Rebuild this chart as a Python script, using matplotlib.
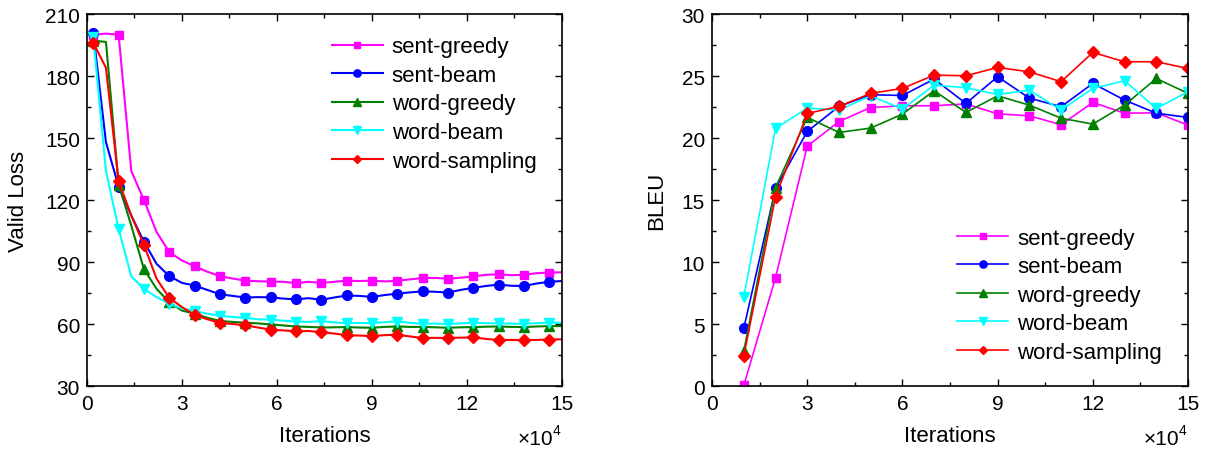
import numpy as np
import matplotlib
matplotlib.use("Agg")
import matplotlib.pyplot as plt

plt.rcParams['font.family'] = ['Liberation Sans', 'DejaVu Sans']

# ---- data ----
labels = ["sent-greedy", "sent-beam", "word-greedy", "word-beam", "word-sampling"]

# valid loss, sampled every 0.4e4 iterations (markers on every other point)
loss_iters = [0.2, 0.6, 1.0, 1.4, 1.8, 2.2, 2.6, 3.0, 3.4, 3.8, 4.2, 4.6, 5.0,
              5.4, 5.8, 6.2, 6.6, 7.0, 7.4, 7.8, 8.2, 8.6, 9.0, 9.4, 9.8, 10.2,
              10.6, 11.0, 11.4, 11.8, 12.2, 12.6, 13.0, 13.4, 13.8, 14.2, 14.6, 15.0]
loss_sent_greedy = [200, 200.5, 200, 134, 120, 104.5, 94.8, 90.7, 88.0, 85.3,
                    83.2, 82.0, 81.0, 80.7, 80.5, 80.4, 79.8, 80.4, 79.9, 80.4,
                    81.0, 80.8, 81.0, 80.6, 80.9, 81.6, 82.2, 82.3, 81.9, 82.4,
                    83.0, 83.8, 84.1, 83.6, 83.8, 84.6, 84.9, 85.0]
loss_sent_beam = [200.8, 148, 126.5, 112.5, 99.8, 89.1, 83.2, 79.9, 78.6, 76.5,
                  74.4, 73.6, 72.8, 73.0, 72.9, 72.3, 71.9, 72.5, 71.7, 72.8,
                  73.8, 73.6, 73.1, 74.0, 74.7, 75.3, 75.8, 75.6, 75.2, 76.5,
                  77.5, 78.4, 79.1, 78.5, 78.4, 79.6, 80.4, 80.8]
loss_word_greedy = [197.1, 196.5, 127.5, 107.6, 86.5, 77.0, 70.5, 66.5, 65.0, 63.0,
                    61.5, 61.0, 60.6, 60.3, 59.8, 59.3, 58.8, 58.6, 58.3, 58.4,
                    58.5, 58.3, 58.2, 58.6, 58.8, 58.6, 58.6, 58.4, 58.2, 58.4,
                    58.5, 58.7, 58.8, 58.6, 58.5, 58.8, 59.0, 59.0]
loss_word_beam = [198.7, 134, 106, 83, 77, 73, 69.8, 67.5, 66.3, 65.0,
                  64.0, 63.4, 63.0, 62.3, 62.1, 61.6, 61.2, 61.0, 61.4, 60.8,
                  60.4, 60.5, 60.4, 60.9, 61.2, 60.6, 60.1, 60.2, 60.0, 60.3,
                  60.6, 60.4, 60.3, 60.2, 60.1, 60.4, 60.6, 60.6]
loss_word_sampling = [196, 184, 129, 112.5, 98.3, 81.9, 72.7, 68.2, 64.4, 62.3,
                      60.6, 60.0, 59.4, 58.3, 57.3, 56.9, 56.5, 56.6, 56.1, 55.4,
                      54.6, 54.4, 54.2, 54.6, 54.8, 54.0, 53.2, 53.3, 53.2, 53.4,
                      53.5, 52.8, 52.2, 52.3, 52.2, 52.3, 52.5, 52.6]

# BLEU every 1e4 iterations
bleu_iters = [1, 2, 3, 4, 5, 6, 7, 8, 9, 10, 11, 12, 13, 14, 15]
bleu_sent_greedy = [0.05, 8.74, 19.34, 21.33, 22.46, 22.6, 22.6, 22.75, 21.95,
                    21.79, 21.07, 22.87, 22.0, 22.03, 21.04]
bleu_sent_beam = [4.65, 15.93, 20.53, 22.55, 23.49, 23.43, 24.75, 22.79, 24.94,
                  23.22, 22.52, 24.4, 23.06, 22.0, 21.66]
bleu_word_greedy = [2.8, 16.0, 21.66, 20.45, 20.8, 21.93, 23.81, 22.06, 23.4,
                    22.65, 21.6, 21.12, 22.65, 24.8, 23.6]
bleu_word_beam = [7.18, 20.77, 22.41, 22.25, 23.4, 22.33, 24.27, 24.05, 23.51,
                  23.86, 22.25, 24.0, 24.62, 22.38, 23.73]
bleu_word_sampling = [2.42, 15.25, 21.98, 22.55, 23.6, 24.0, 25.07, 25.02, 25.69,
                      25.34, 24.54, 26.9, 26.15, 26.15, 25.61]

colors = ["#ff00ff", "#0000ff", "#008000", "#00ffff", "#ff0000"]
markers = ["s", "o", "^", "v", "D"]
msizes = [6, 7, 7, 7, 6]

loss_series = [loss_sent_greedy, loss_sent_beam, loss_word_greedy,
               loss_word_beam, loss_word_sampling]
bleu_series = [bleu_sent_greedy, bleu_sent_beam, bleu_word_greedy,
               bleu_word_beam, bleu_word_sampling]


def style_axes(ax, ylabel_x):
    ax.tick_params(which='both', direction='in', top=True, right=True,
                   labelsize=15, width=1.0)
    ax.tick_params(axis='x', pad=6)
    ax.tick_params(axis='y', pad=5)
    ax.tick_params(which='major', length=5)
    ax.tick_params(which='minor', length=3)
    for spine in ax.spines.values():
        spine.set_linewidth(1.2)
    ax.set_xlabel("Iterations", fontsize=16)
    ax.xaxis.set_label_coords(0.5, -0.105)
    ax.yaxis.set_label_coords(ylabel_x, 0.5)
    # x10^4 multiplier under the right end of the x axis
    ax.text(0.981, -0.14, "×10", transform=ax.transAxes,
            fontsize=15, ha='right', va='center')
    ax.text(0.981, -0.118, "4", transform=ax.transAxes,
            fontsize=10, ha='left', va='center')


def add_legend(ax, y_top):
    ax.legend(loc='upper left', bbox_to_anchor=(0.515, y_top), frameon=False,
              fontsize=16, handlelength=2.3, handletextpad=0.4, labelspacing=0.34,
              borderpad=0, borderaxespad=0, markerscale=0.75)


fig = plt.figure(figsize=(12.11, 4.52), dpi=100)

# left: valid loss
ax1 = fig.add_axes([0.0718, 0.1438, 0.3922, 0.823])
for vals, lab, c, m, ms in zip(loss_series, labels, colors, markers, msizes):
    ax1.plot(loss_iters, vals, color=c, marker=m, markersize=ms, lw=1.5,
             markevery=2, label=lab)
ax1.set_xlim(0, 15)
ax1.set_ylim(30, 210)
ax1.set_xticks([0, 3, 6, 9, 12, 15])
ax1.set_xticks(np.arange(1.5, 15, 3), minor=True)
ax1.set_yticks([30, 60, 90, 120, 150, 180, 210])
ax1.set_yticks(np.arange(45, 210, 30), minor=True)
ax1.set_ylabel("Valid Loss", fontsize=16)
style_axes(ax1, -0.122)
add_legend(ax1, 0.94)

# right: BLEU
ax2 = fig.add_axes([0.588, 0.1438, 0.393, 0.823])
for vals, lab, c, m, ms in zip(bleu_series, labels, colors, markers, msizes):
    ax2.plot(bleu_iters, vals, color=c, marker=m, markersize=ms, lw=1.2,
             label=lab)
ax2.set_xlim(0, 15)
ax2.set_ylim(0, 30)
ax2.set_xticks([0, 3, 6, 9, 12, 15])
ax2.set_xticks(np.arange(1.5, 15, 3), minor=True)
ax2.set_yticks([0, 5, 10, 15, 20, 25, 30])
ax2.set_yticks(np.arange(2.5, 30, 5), minor=True)
ax2.set_ylabel("BLEU", fontsize=16)
style_axes(ax2, -0.0945)
add_legend(ax2, 0.426)

fig.savefig("out.png", dpi=100)
